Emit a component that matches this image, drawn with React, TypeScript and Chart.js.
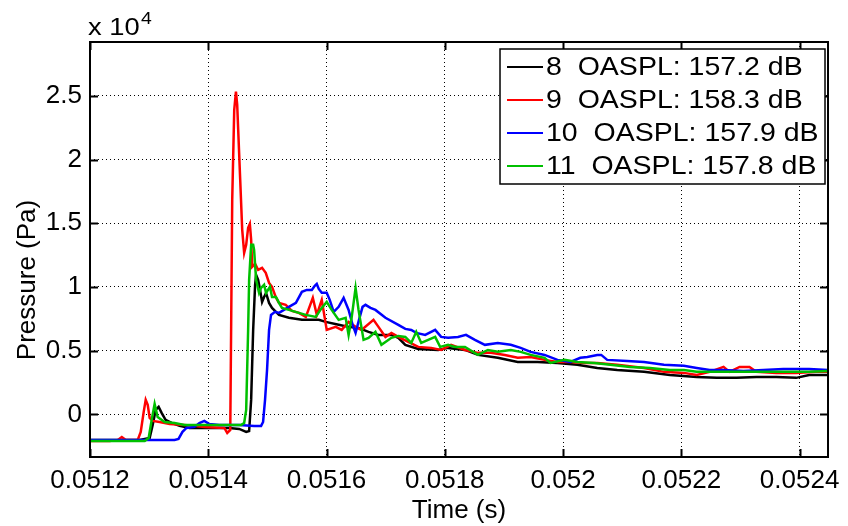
import React, { useEffect, useRef } from "react";
import { Chart, registerables } from "chart.js";

Chart.register(...registerables);

// ---- Data (time in s, pressure in Pa) ----
const t8 = [0.0512000, 0.0512841, 0.0513009, 0.0513060, 0.0513110, 0.0513161, 0.0513211, 0.0513278, 0.0513379, 0.0513514, 0.0513682, 0.0514018, 0.0514355, 0.0514523, 0.0514641, 0.0514691, 0.0514725, 0.0514759, 0.0514792, 0.0514809, 0.0514843, 0.0514876, 0.0514910, 0.0514944, 0.0514977, 0.0515028, 0.0515078, 0.0515145, 0.0515196, 0.0515364, 0.0515583, 0.0515869, 0.0515986, 0.0516205, 0.0516373, 0.0516541, 0.0516710, 0.0516878, 0.0517097, 0.0517214, 0.0517332, 0.0517551, 0.0517887, 0.0518055, 0.0518341, 0.0518560, 0.0518896, 0.0519233, 0.0519569, 0.0519905, 0.0520242, 0.0520578, 0.0520915, 0.0521369, 0.0521806, 0.0522260, 0.0522597, 0.0522933, 0.0523269, 0.0523606, 0.0523942, 0.0524161, 0.0524497];
const p8 = [-2000, -2000, -1850, -820, 350, 590, 120, -430, -670, -900, -1060, -1060, -1060, -1140, -1370, -1300, 1140, 6630, 10170, 10950, 10560, 9770, 8830, 9220, 9540, 8750, 8360, 8050, 7810, 7580, 7420, 7420, 7260, 7030, 6870, 6790, 6480, 6240, 6240, 6010, 5460, 5140, 5060, 5220, 5060, 4670, 4440, 4120, 4120, 4040, 3890, 3650, 3490, 3340, 3100, 2940, 2870, 2870, 2940, 2940, 2870, 3100, 3100];

const t9 = [0.0512000, 0.0512336, 0.0512471, 0.0512538, 0.0512606, 0.0512807, 0.0512858, 0.0512908, 0.0512942, 0.0512976, 0.0513009, 0.0513060, 0.0513177, 0.0513346, 0.0513598, 0.0513934, 0.0514271, 0.0514321, 0.0514372, 0.0514405, 0.0514439, 0.0514468, 0.0514489, 0.0514506, 0.0514540, 0.0514574, 0.0514607, 0.0514641, 0.0514674, 0.0514703, 0.0514725, 0.0514742, 0.0514792, 0.0514843, 0.0514910, 0.0514972, 0.0515028, 0.0515078, 0.0515140, 0.0515196, 0.0515309, 0.0515415, 0.0515532, 0.0515650, 0.0515768, 0.0515835, 0.0515919, 0.0516003, 0.0516155, 0.0516256, 0.0516373, 0.0516491, 0.0516592, 0.0516794, 0.0516878, 0.0516996, 0.0517097, 0.0517214, 0.0517382, 0.0517551, 0.0517769, 0.0517938, 0.0518106, 0.0518341, 0.0518560, 0.0518779, 0.0519014, 0.0519233, 0.0519451, 0.0519687, 0.0519905, 0.0520124, 0.0520360, 0.0520578, 0.0520915, 0.0521369, 0.0521705, 0.0522042, 0.0522260, 0.0522479, 0.0522714, 0.0522815, 0.0522984, 0.0523152, 0.0523269, 0.0523606, 0.0523942, 0.0524279, 0.0524497];
const p9 = [-2080, -2080, -2000, -1770, -2000, -2000, -1370, 200, 1140, 750, -270, -510, -590, -750, -820, -980, -1060, -1450, -1220, 16840, 23900, 25320, 24300, 22330, 18410, 14480, 12680, 13310, 14640, 14950, 13700, 11580, 11810, 11340, 11500, 11110, 10320, 10010, 9220, 8750, 8600, 8120, 7970, 7650, 9150, 7810, 8990, 6630, 6870, 6630, 7260, 6870, 6630, 7420, 6870, 6080, 6400, 6080, 5690, 5300, 5220, 5060, 5460, 5060, 4830, 4830, 4670, 4440, 4510, 4280, 4120, 4120, 4040, 4040, 3890, 3650, 3340, 3260, 3100, 3340, 3730, 3340, 3730, 3730, 3340, 3260, 3260, 3340, 3340];

const t10 = [0.0512000, 0.0513430, 0.0513497, 0.0513564, 0.0513632, 0.0513766, 0.0513850, 0.0513934, 0.0514018, 0.0514187, 0.0514523, 0.0514775, 0.0514893, 0.0514927, 0.0514960, 0.0514994, 0.0515028, 0.0515061, 0.0515129, 0.0515196, 0.0515280, 0.0515364, 0.0515482, 0.0515583, 0.0515667, 0.0515751, 0.0515801, 0.0515835, 0.0515869, 0.0515919, 0.0516003, 0.0516054, 0.0516121, 0.0516205, 0.0516289, 0.0516373, 0.0516441, 0.0516491, 0.0516558, 0.0516609, 0.0516659, 0.0516743, 0.0516827, 0.0516996, 0.0517214, 0.0517332, 0.0517433, 0.0517517, 0.0517668, 0.0517837, 0.0517938, 0.0518055, 0.0518223, 0.0518358, 0.0518509, 0.0518678, 0.0518896, 0.0519115, 0.0519283, 0.0519451, 0.0519687, 0.0519905, 0.0520124, 0.0520292, 0.0520410, 0.0520578, 0.0520645, 0.0520746, 0.0521083, 0.0521369, 0.0521705, 0.0522042, 0.0522260, 0.0522479, 0.0522714, 0.0523051, 0.0523387, 0.0523724, 0.0524161, 0.0524497];
const p10 = [-2000, -2000, -1920, -1370, -1060, -980, -670, -510, -750, -820, -820, -900, -900, -590, 1140, 3490, 6630, 7810, 8050, 7970, 8200, 8440, 8750, 9620, 9770, 9770, 10090, 10240, 9850, 9540, 9540, 8990, 8050, 8440, 9150, 8200, 7030, 6400, 7580, 8440, 8600, 8360, 8200, 7580, 7030, 6710, 6630, 6400, 6240, 6630, 6080, 6010, 6080, 6240, 5850, 5460, 5610, 5460, 5220, 4910, 4670, 4280, 4120, 4440, 4510, 4670, 4670, 4280, 4200, 4120, 3890, 3810, 3650, 3490, 3490, 3410, 3490, 3570, 3570, 3490];

const t11 = [0.0512000, 0.0512925, 0.0512992, 0.0513043, 0.0513093, 0.0513144, 0.0513262, 0.0513430, 0.0513598, 0.0513934, 0.0514271, 0.0514557, 0.0514607, 0.0514641, 0.0514674, 0.0514691, 0.0514725, 0.0514759, 0.0514775, 0.0514809, 0.0514859, 0.0514893, 0.0514944, 0.0514977, 0.0515044, 0.0515078, 0.0515145, 0.0515196, 0.0515246, 0.0515364, 0.0515532, 0.0515650, 0.0515818, 0.0515919, 0.0516003, 0.0516087, 0.0516205, 0.0516323, 0.0516373, 0.0516424, 0.0516491, 0.0516541, 0.0516626, 0.0516710, 0.0516827, 0.0516928, 0.0517097, 0.0517214, 0.0517332, 0.0517433, 0.0517517, 0.0517601, 0.0517719, 0.0517837, 0.0517921, 0.0518055, 0.0518173, 0.0518341, 0.0518560, 0.0518728, 0.0518896, 0.0519115, 0.0519283, 0.0519451, 0.0519687, 0.0519788, 0.0520023, 0.0520242, 0.0520528, 0.0520797, 0.0521133, 0.0521470, 0.0521806, 0.0522042, 0.0522260, 0.0522597, 0.0522933, 0.0523387, 0.0523724, 0.0524161, 0.0524497];
const p11 = [-2080, -2080, -1850, -430, 820, -200, -590, -670, -820, -820, -820, -820, -670, 350, 6630, 10560, 13310, 13310, 12910, 10560, 9540, 9930, 10170, 9540, 10010, 9220, 9220, 8750, 8360, 8200, 7970, 7810, 7650, 8360, 8830, 8200, 7420, 7580, 6240, 7580, 9930, 8200, 5850, 6010, 6480, 5460, 6010, 6160, 6080, 5610, 6480, 5610, 5850, 6080, 5300, 5460, 5300, 5300, 4670, 5060, 4910, 5060, 4910, 4670, 4440, 4040, 4280, 4120, 4040, 3890, 3730, 3650, 3490, 3490, 3340, 3340, 3340, 3340, 3340, 3340, 3410];

const seriesLabels = ["8  OASPL: 157.2 dB", "9  OASPL: 158.3 dB", "10  OASPL: 157.9 dB", "11  OASPL: 157.8 dB"];
const seriesColors = ["#000000", "#ff0000", "#0000ff", "#00c000"];
const seriesTimes = [t8, t9, t10, t11];
const seriesPressures = [p8, p9, p10, p11];

const xTickValues = [0.0512, 0.0514, 0.0516, 0.0518, 0.052, 0.0522, 0.0524];
const xTickLabels = ["0.0512", "0.0514", "0.0516", "0.0518", "0.052", "0.0522", "0.0524"];
const yTickValues = [0, 5000, 10000, 15000, 20000, 25000];
const yTickLabels = ["0", "0.5", "1", "1.5", "2", "2.5"];
const xLimits = [0.0512, 0.052448];
const yLimits = [-3340, 29220];
const xTitle = "Time (s)";
const yTitle = "Pressure (Pa)";
const yMultiplierBase = "x 10";
const yMultiplierExp = "4";

const FONT = "'Liberation Sans', Arial, Helvetica, sans-serif";
const STRETCH = 1.14;

function drawStretched(ctx: CanvasRenderingContext2D, text: string, x: number, y: number, size: number) {
  ctx.save();
  ctx.translate(x, y);
  ctx.scale(STRETCH, 1);
  ctx.font = `${size}px ${FONT}`;
  ctx.fillText(text, 0, 0);
  ctx.restore();
}

const framePlugin = {
  id: "matlabFrame",
  afterDatasetsDraw(chart: any) {
    const { ctx, chartArea: a, scales } = chart;
    ctx.save();
    ctx.setLineDash([]);
    ctx.strokeStyle = "#000";
    ctx.lineWidth = 2;
    ctx.strokeRect(a.left, a.top, a.right - a.left, a.bottom - a.top);
    const L = 8;
    ctx.beginPath();
    xTickValues.forEach((v) => {
      const x = Math.round(scales.x.getPixelForValue(v)) + 0.5;
      ctx.moveTo(x, a.bottom);
      ctx.lineTo(x, a.bottom - L);
      ctx.moveTo(x, a.top);
      ctx.lineTo(x, a.top + L);
    });
    yTickValues.forEach((v) => {
      const y = Math.round(scales.y.getPixelForValue(v)) + 0.5;
      ctx.moveTo(a.left, y);
      ctx.lineTo(a.left + L, y);
      ctx.moveTo(a.right, y);
      ctx.lineTo(a.right - L, y);
    });
    ctx.stroke();

    // Legend box
    const bx = a.right - 328;
    const by = a.top + 7;
    const bw = 325;
    const bh = 135;
    ctx.fillStyle = "#fff";
    ctx.fillRect(bx, by, bw, bh);
    ctx.lineWidth = 1.5;
    ctx.strokeStyle = "#000";
    ctx.strokeRect(bx, by, bw, bh);
    ctx.textBaseline = "middle";
    ctx.textAlign = "left";
    seriesLabels.forEach((label, i) => {
      const cy = by + 18 + i * 33;
      ctx.strokeStyle = seriesColors[i];
      ctx.lineWidth = 2;
      ctx.beginPath();
      ctx.moveTo(bx + 7, cy);
      ctx.lineTo(bx + 43, cy);
      ctx.stroke();
      ctx.fillStyle = "#000";
      drawStretched(ctx, label, bx + 46, cy + 1, 25);
    });

    // Exponent label
    ctx.textBaseline = "alphabetic";
    ctx.fillStyle = "#000";
    drawStretched(ctx, yMultiplierBase, a.left - 2, a.top - 7, 24);
    drawStretched(ctx, yMultiplierExp, a.left + 51, a.top - 18, 17);

    // Y axis title
    ctx.save();
    ctx.translate(28, 280);
    ctx.rotate(-Math.PI / 2);
    ctx.textAlign = "center";
    ctx.textBaseline = "middle";
    ctx.font = `26px ${FONT}`;
    ctx.fillText(yTitle, 0, 0);
    ctx.restore();

    ctx.restore();
  },
};

export default function App() {
  const ref = useRef<HTMLCanvasElement | null>(null);

  useEffect(() => {
    const canvas = ref.current;
    if (!canvas) return;
    const datasets = seriesLabels.map((label, i) => ({
      label,
      data: seriesTimes[i].map((t, j) => ({ x: t, y: seriesPressures[i][j] })),
      borderColor: seriesColors[i],
      backgroundColor: seriesColors[i],
      borderWidth: 2.5,
      pointRadius: 0,
      tension: 0,
      fill: false,
      order: 4 - i,
    }));

    const tickFont = { family: FONT, size: 26 };
    const chart = new Chart(canvas, {
      type: "line",
      data: { datasets },
      options: {
        animation: false,
        responsive: false,
        devicePixelRatio: 1,
        layout: { padding: { top: 42, right: 16, left: 0, bottom: 0 } },
        plugins: {
          legend: { display: false },
          tooltip: { enabled: false },
          title: { display: false },
        },
        scales: {
          x: {
            type: "linear",
            min: xLimits[0],
            max: xLimits[1],
            afterBuildTicks: (s: any) => {
              s.ticks = xTickValues.map((v) => ({ value: v }));
            },
            afterFit: (s: any) => {
              s.height = 69;
            },
            ticks: {
              autoSkip: false,
              maxRotation: 0,
              padding: 8,
              color: "#000",
              font: tickFont,
              callback: (v: any) => {
                const k = xTickValues.findIndex((t) => Math.abs(t - v) < 1e-9);
                return k >= 0 ? xTickLabels[k] : "";
              },
            },
            grid: { color: "#000", lineWidth: 1, drawTicks: false },
            border: { display: false, dash: [1, 3] },
            title: {
              display: true,
              text: xTitle,
              color: "#000",
              font: tickFont,
              padding: { top: 0, bottom: 0 },
            },
          },
          y: {
            type: "linear",
            min: yLimits[0],
            max: yLimits[1],
            afterBuildTicks: (s: any) => {
              s.ticks = yTickValues.map((v) => ({ value: v }));
            },
            afterFit: (s: any) => {
              s.width = 90;
            },
            ticks: {
              autoSkip: false,
              padding: 8,
              color: "#000",
              font: tickFont,
              callback: (v: any) => {
                const k = yTickValues.findIndex((t) => Math.abs(t - v) < 1e-6);
                return k >= 0 ? yTickLabels[k] : "";
              },
            },
            grid: { color: "#000", lineWidth: 1, drawTicks: false },
            border: { display: false, dash: [1, 3] },
            title: { display: false },
          },
        },
      },
      plugins: [framePlugin],
    });
    return () => chart.destroy();
  }, []);

  return (
    <div style={{ position: "fixed", left: 0, top: 0, width: 848, height: 526, background: "#fff" }}>
      <canvas ref={ref} width={848} height={526} style={{ display: "block" }} />
    </div>
  );
}
